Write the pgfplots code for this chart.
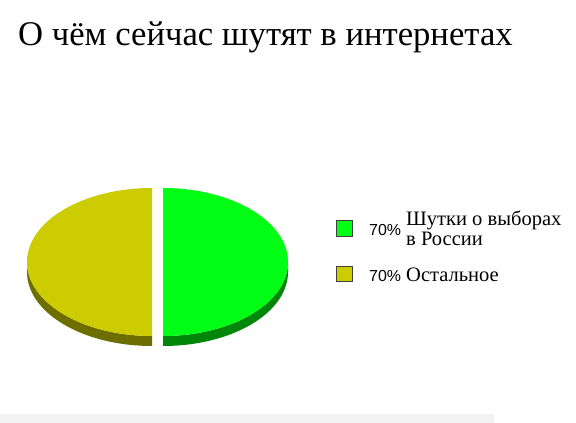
\documentclass[border=0pt]{standalone}
\usepackage{pgfplots}
\pgfplotsset{compat=1.18}
\usepackage{pgfplotstable}
\usepackage{fontspec}
\setmainfont{Liberation Serif}
\newfontfamily\arialfont{Liberation Sans}

\definecolor{greentop}{RGB}{0,255,20}
\definecolor{greenside}{RGB}{0,135,10}
\definecolor{olivetop}{RGB}{204,204,0}
\definecolor{oliveside}{RGB}{110,110,0}
\definecolor{bandgray}{RGB}{243,243,243}

% slice values (percent, as printed in the legend)
\pgfplotstableread{
slice value
elections 70
other     70
}\piedata

\begin{document}
\begin{tikzpicture}
	\pgfplotstablegetelem{0}{value}\of\piedata \let\va\pgfplotsretval
	\pgfplotstablegetelem{1}{value}\of\piedata \let\vb\pgfplotsretval
	% angles: first slice clockwise from the top, second one after it
	\pgfmathsetmacro{\fA}{\va/(\va+\vb)}
	\pgfmathsetmacro{\fB}{\vb/(\va+\vb)}
	\pgfmathsetmacro{\sA}{90-360*\fA}
	\pgfmathsetmacro{\eA}{90}
	\pgfmathsetmacro{\sB}{90}
	\pgfmathsetmacro{\eB}{90+360*\fB}
	\pgfmathsetmacro{\mA}{(\sA+\eA)/2}
	\pgfmathsetmacro{\mB}{(\sB+\eB)/2}
	% visible side of each slice (lower half of the ellipse)
	\pgfmathsetmacro{\lsA}{max(\sA,-180)}
	\pgfmathsetmacro{\leA}{min(\eA,0)}
	\pgfmathsetmacro{\lsB}{max(\sB,180)}
	\pgfmathsetmacro{\leB}{min(\eB,360)}
	\def\cx{157.5}\def\cy{161}\def\ra{125}\def\rb{74}\def\dep{10}\def\gap{5.5}
	\pgfmathsetmacro{\axA}{\cx+\gap*cos(\mA)}
	\pgfmathsetmacro{\ayA}{\cy+\gap*sin(\mA)}
	\pgfmathsetmacro{\axB}{\cx+\gap*cos(\mB)}
	\pgfmathsetmacro{\ayB}{\cy+\gap*sin(\mB)}
	\begin{axis}
	[
		scale only axis,
		width=576bp,
		height=423bp,
		xmin=0, xmax=576,
		ymin=0, ymax=423,
		enlargelimits=false,
		hide axis,
		clip=false,
	]
		\fill[white] (axis cs:0,0) rectangle (axis cs:576,423);
		\fill[bandgray] (axis cs:0,0) rectangle (axis cs:494,9);

		% sides
		\fill[greenside] (axis cs:\axA,\ayA) ++(\lsA:\ra bp and \rb bp)
			arc[start angle=\lsA, end angle=\leA, x radius=\ra bp, y radius=\rb bp]
			-- ++(0,-\dep bp)
			arc[start angle=\leA, end angle=\lsA, x radius=\ra bp, y radius=\rb bp] -- cycle;
		\fill[oliveside] (axis cs:\axB,\ayB) ++(\lsB:\ra bp and \rb bp)
			arc[start angle=\lsB, end angle=\leB, x radius=\ra bp, y radius=\rb bp]
			-- ++(0,-\dep bp)
			arc[start angle=\leB, end angle=\lsB, x radius=\ra bp, y radius=\rb bp] -- cycle;
		% tops
		\fill[greentop] (axis cs:\axA,\ayA) -- ++(\sA:\ra bp and \rb bp)
			arc[start angle=\sA, end angle=\eA, x radius=\ra bp, y radius=\rb bp] -- cycle;
		\fill[olivetop] (axis cs:\axB,\ayB) -- ++(\sB:\ra bp and \rb bp)
			arc[start angle=\sB, end angle=\eB, x radius=\ra bp, y radius=\rb bp] -- cycle;

		% title
		\node[anchor=base west, inner sep=0pt, font=\fontsize{34.8}{40}\selectfont]
			at (axis cs:18,377) {О чём сейчас шутят в интернетах};

		% legend
		\filldraw[fill=greentop, draw=black!75, line width=0.8bp]
			(axis cs:336,187) rectangle (axis cs:352,203);
		\filldraw[fill=olivetop, draw=black!75, line width=0.8bp]
			(axis cs:336,142) rectangle (axis cs:352,157);
		\node[anchor=base west, inner sep=0pt, font=\arialfont\fontsize{16}{18}\selectfont]
			at (axis cs:369,187) {\va\%};
		\node[anchor=base west, inner sep=0pt, font=\arialfont\fontsize{16}{18}\selectfont]
			at (axis cs:369,141) {\vb\%};
		\node[anchor=base west, inner sep=0pt, font=\fontsize{20.6}{20}\selectfont]
			at (axis cs:406,197) {Шутки о выборах};
		\node[anchor=base west, inner sep=0pt, font=\fontsize{20.6}{20}\selectfont]
			at (axis cs:406,177) {в России};
		\node[anchor=base west, inner sep=0pt, font=\fontsize{20.6}{20}\selectfont]
			at (axis cs:406,141) {Остальное};
	\end{axis}
\end{tikzpicture}
\end{document}
